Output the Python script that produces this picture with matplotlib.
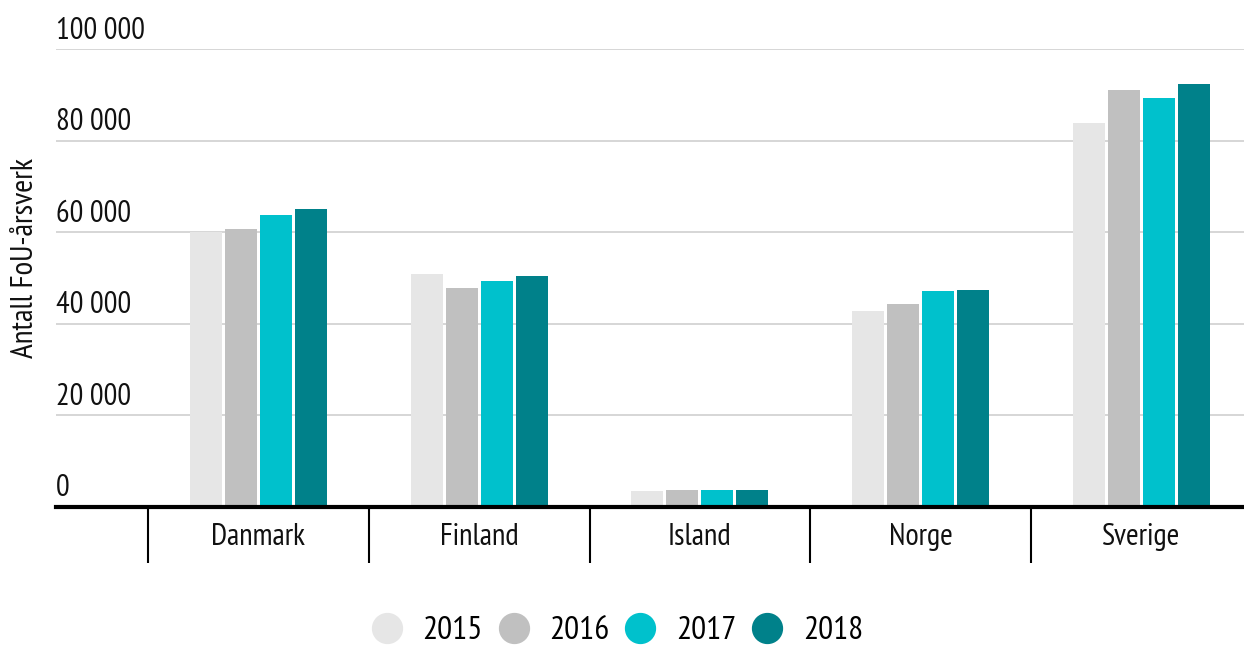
import matplotlib
matplotlib.use("Agg")
import matplotlib.pyplot as plt
from matplotlib.lines import Line2D
import numpy as np

plt.rcParams["font.family"] = ["PT Sans Narrow", "DejaVu Sans"]

# data
countries = ["Danmark", "Finland", "Island", "Norge", "Sverige"]
years = ["2015", "2016", "2017", "2018"]
v2015 = [60000, 50800, 3300, 42700, 83800]
v2016 = [60600, 47700, 3500, 44200, 91000]
v2017 = [63700, 49200, 3500, 47000, 89300]
v2018 = [65000, 50300, 3600, 47300, 92300]
y_ticks = [0, 20000, 40000, 60000, 80000, 100000]
y_tick_labels = ["0", "20 000", "40 000", "60 000", "80 000", "100 000"]

colors = ["#e6e6e6", "#c0c0c0", "#00c1cc", "#00818a"]
series = [v2015, v2016, v2017, v2018]

W, H = 1244, 646
fig = plt.figure(figsize=(W / 100, H / 100), dpi=100)
bottom = 1 - 506.5 / H
top = 1 - 49 / H
left = 56 / W
ax = fig.add_axes([left, bottom, 1 - left, top - bottom])

x = np.arange(len(countries))
pitch = 0.1586
width = 0.145
for i, (vals, col) in enumerate(zip(series, colors)):
    ax.bar(x + (i - 1.5) * pitch, vals, width=width, color=col, zorder=3, label=years[i])

ax.set_ylim(0, 100000)
ax.set_xlim(-0.917, 4.465)

# gridlines
for t in y_ticks[1:]:
    ax.axhline(t, color="#cccccc", lw=1.1, zorder=1)

# y tick labels sit above the gridlines, left aligned
ax.set_yticks([])
for t, lab in zip(y_ticks, y_tick_labels):
    ax.annotate(lab, xy=(0, t), xycoords=("axes fraction", "data"),
                xytext=(0, 7.5), textcoords="offset points",
                ha="left", va="baseline", fontsize=22, color="#111111")

for s in ["top", "right", "left"]:
    ax.spines[s].set_visible(False)
ax.spines["bottom"].set_linewidth(3)
ax.spines["bottom"].set_color("black")
ax.spines["bottom"].set_zorder(4)

ax.set_xticks(x)
ax.set_xticklabels(countries, fontsize=22, color="#111111")
ax.tick_params(axis="x", which="major", length=0, pad=12)
# separators between categories
ax.set_xticks(x - 0.5, minor=True)
ax.tick_params(axis="x", which="minor", length=40, width=1.5, color="black", direction="out")

fig.text(25 / W, 1 - 258 / H, "Antall FoU-årsverk", rotation=90,
         ha="center", va="center", fontsize=22.5, color="#111111")

handles = [Line2D([], [], linestyle="none", marker="o", markersize=21.5,
                  markerfacecolor=c, markeredgecolor=c) for c in colors]
fig.legend(handles, years, loc="center", bbox_to_anchor=(617 / W, 1 - 631 / H),
           ncol=4, frameon=False, fontsize=24, handlelength=0.95,
           handletextpad=0.6, columnspacing=0.45, borderpad=0, borderaxespad=0)

fig.savefig("out.png", dpi=100)
